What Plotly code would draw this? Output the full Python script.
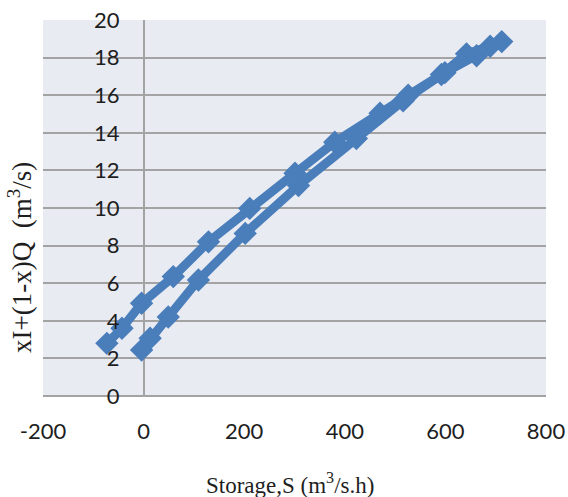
import plotly.graph_objects as go

# Storage S (m3/s.h) and weighted flux xI+(1-x)Q (m3/s), in loop order
storage = [-4, 13, 49, 109, 202, 308, 423, 516, 599, 662, 712,
           689, 642, 592, 526, 470, 380, 301, 211, 129, 59, -4, -43, -73]
weighted_flow = [2.45, 3.07, 4.2, 6.17, 8.65, 11.2, 13.7, 15.7, 17.2, 18.1, 18.85,
                 18.6, 18.2, 17.1, 16.0, 15.04, 13.5, 11.85, 9.98, 8.2, 6.35, 4.93, 3.6, 2.8]

x_ticks = [-200, 0, 200, 400, 600, 800]
x_tick_labels = ["-200", "0", "200", "400", "600", "800"]
y_ticks = [0, 2, 4, 6, 8, 10, 12, 14, 16, 18, 20]

blue = "#4A7EBB"
grid = "#A3A3A3"
tick_font = dict(family="Lato, Open Sans, sans-serif", size=22, color="#1e1e1e")
xtitle_font = dict(family="Liberation Serif, Times New Roman, serif", size=23, color="#1e1e1e")
ytitle_font = dict(family="Liberation Serif, Times New Roman, serif", size=27, color="#1e1e1e")

fig = go.Figure()
fig.add_trace(go.Scatter(
    x=storage, y=weighted_flow, mode="lines+markers",
    line=dict(color=blue, width=9),
    marker=dict(symbol="diamond", size=18, color=blue),
    showlegend=False, hoverinfo="x+y",
))

fig.update_layout(
    width=568, height=497,
    margin=dict(l=43, r=22, t=20, b=101),
    paper_bgcolor="white",
    plot_bgcolor="#E9EBF3",
    xaxis=dict(
        range=[-200, 800], tickvals=x_ticks, ticktext=x_tick_labels,
        showgrid=False, zeroline=True, zerolinecolor=grid, zerolinewidth=1.5,
        showline=False, ticks="", tickfont=tick_font, ticklabelstandoff=20,
        automargin=False, fixedrange=True,
    ),
    yaxis=dict(
        range=[0, 20], tickvals=y_ticks,
        showgrid=True, gridcolor=grid, gridwidth=1.5,
        zeroline=True, zerolinecolor=grid, zerolinewidth=1.5,
        anchor="free", position=0.2, showline=False, ticks="",
        tickfont=tick_font, ticklabelstandoff=24, automargin=False,
        fixedrange=True,
    ),
    annotations=[
        dict(text="Storage,S (m<sup>3</sup>/s.h)", xref="paper", yref="paper",
             x=(290 - 43) / 503, y=-(483 - 396) / 376, showarrow=False,
             xanchor="center", yanchor="middle", font=xtitle_font),
        dict(text="xI+(1-x)Q  (m<sup>3</sup>/s)", xref="paper", yref="paper",
             x=-(43 - 20) / 503, y=(396 - 258) / 376, showarrow=False,
             textangle=-90, xanchor="center", yanchor="middle", font=ytitle_font),
    ],
)

fig.write_html("out.html", config={"displayModeBar": False},
               post_script="document.body.style.margin='0';")
